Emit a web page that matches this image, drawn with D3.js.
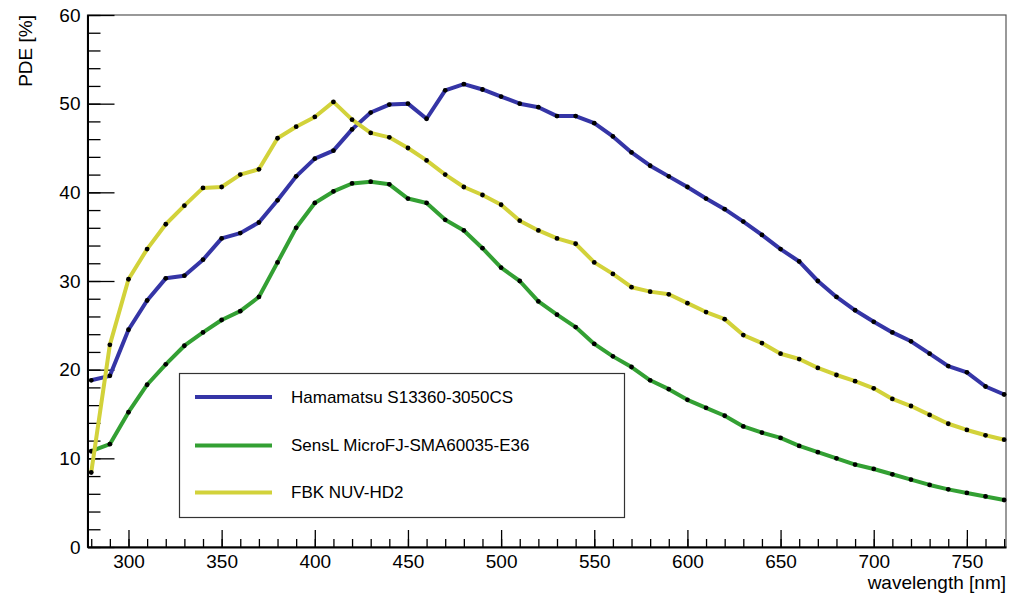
<!DOCTYPE html>
<html>
<head>
<meta charset="utf-8">
<script src="https://cdn.jsdelivr.net/npm/d3@7"></script>
<style>
  body { margin: 0; background: #fff; }
  svg { font-family: "Liberation Sans", Arial, Helvetica, sans-serif; }
</style>
</head>
<body>
<svg id="chart" width="1016" height="594"></svg>
<script>
// wavelength points [nm]
const wavelengths = d3.range(280, 771, 10)

// PDE [%]
const hamamatsu = [18.8, 19.3, 24.5, 27.8, 30.3, 30.6, 32.4, 34.8, 35.4, 36.6,
    39.1, 41.8, 43.8, 44.7, 47.1, 49.0, 49.9, 50.0, 48.3, 51.5,
    52.2, 51.6, 50.8, 50.0, 49.6, 48.6, 48.6, 47.8, 46.3, 44.5,
    43.0, 41.8, 40.6, 39.3, 38.1, 36.7, 35.2, 33.6, 32.2, 30.0,
    28.2, 26.7, 25.4, 24.2, 23.2, 21.8, 20.4, 19.7, 18.1, 17.2]

const sensl = [10.8, 11.6, 15.2, 18.3, 20.6, 22.7, 24.2, 25.6, 26.6, 28.2,
    32.1, 36.0, 38.8, 40.1, 41.0, 41.2, 40.9, 39.3, 38.8, 36.9,
    35.7, 33.7, 31.5, 30.0, 27.7, 26.2, 24.8, 22.9, 21.5, 20.3,
    18.8, 17.8, 16.6, 15.7, 14.8, 13.6, 12.9, 12.3, 11.4, 10.7,
    10.0, 9.3, 8.8, 8.2, 7.6, 7.0, 6.5, 6.1, 5.7, 5.3]

const fbk = [8.4, 22.8, 30.2, 33.6, 36.4, 38.5, 40.5, 40.6, 42.0, 42.6,
    46.1, 47.4, 48.5, 50.2, 48.2, 46.7, 46.2, 45.0, 43.6, 42.0,
    40.6, 39.7, 38.6, 36.8, 35.7, 34.8, 34.2, 32.1, 30.8, 29.3,
    28.8, 28.5, 27.5, 26.5, 25.7, 23.9, 23.0, 21.8, 21.2, 20.2,
    19.4, 18.7, 17.9, 16.7, 15.9, 14.9, 13.9, 13.2, 12.6, 12.1]

const seriesNames = ['Hamamatsu S13360-3050CS', 'SensL MicroFJ-SMA60035-E36', 'FBK NUV-HD2']
const seriesColors = ['#3535a6', '#33a033', '#d2d23a']
const seriesValues = [hamamatsu, sensl, fbk]

const yMajorTicks = [0, 10, 20, 30, 40, 50, 60]
const xMajorTicks = [300, 350, 400, 450, 500, 550, 600, 650, 700, 750]

let svg = d3.select('#chart')

let frame = { left: 87.5, right: 1006, top: 15, bottom: 547 }

let xScale = d3.scaleLinear().domain([278, 771]).range([frame.left, frame.right])
let yScale = d3.scaleLinear().domain([0, 60]).range([frame.bottom, frame.top])

// frame
svg.append('rect')
    .attr('x', frame.left)
    .attr('y', frame.top)
    .attr('width', frame.right - frame.left)
    .attr('height', frame.bottom - frame.top)
    .attr('fill', 'none')
    .attr('stroke', '#555')
    .attr('stroke-width', 1.2)

// y axis minor ticks
svg.append('g')
    .attr('transform', `translate(${frame.left},0)`)
    .call(d3.axisLeft(yScale).tickValues(d3.range(0, 61, 2)).tickSize(-13).tickSizeOuter(0).tickFormat(''))
    .call(g => g.select('.domain').remove())
    .call(g => g.selectAll('line').attr('stroke', '#000').attr('stroke-width', 1.3))

// y axis major ticks
svg.append('g')
    .attr('transform', `translate(${frame.left},0)`)
    .call(d3.axisLeft(yScale).tickValues(yMajorTicks).tickSize(-27).tickSizeOuter(0).tickPadding(7))
    .call(g => g.select('.domain').attr('stroke', '#000').attr('stroke-width', 2))
    .call(g => g.selectAll('line').attr('stroke', '#000').attr('stroke-width', 1.3))
    .call(g => g.selectAll('text').attr('font-size', 19).attr('fill', '#000')
        .attr('font-family', '"Liberation Sans", Arial, sans-serif'))

// x axis minor ticks
svg.append('g')
    .attr('transform', `translate(0,${frame.bottom})`)
    .call(d3.axisBottom(xScale).tickValues(d3.range(280, 771, 10)).tickSize(-8).tickSizeOuter(0).tickFormat(''))
    .call(g => g.select('.domain').remove())
    .call(g => g.selectAll('line').attr('stroke', '#000').attr('stroke-width', 1.3))

// x axis major ticks
svg.append('g')
    .attr('transform', `translate(0,${frame.bottom})`)
    .call(d3.axisBottom(xScale).tickValues(xMajorTicks).tickSize(-17).tickSizeOuter(0).tickPadding(8))
    .call(g => g.select('.domain').attr('stroke', '#000').attr('stroke-width', 2))
    .call(g => g.selectAll('line').attr('stroke', '#000').attr('stroke-width', 1.3))
    .call(g => g.selectAll('text').attr('font-size', 19).attr('fill', '#000')
        .attr('font-family', '"Liberation Sans", Arial, sans-serif'))

// axis titles
svg.append('text')
    .attr('transform', `translate(32,${frame.top}) rotate(-90)`)
    .attr('text-anchor', 'end')
    .attr('font-size', 19)
    .text('PDE [%]')

svg.append('text')
    .attr('x', frame.right)
    .attr('y', 589)
    .attr('text-anchor', 'end')
    .attr('font-size', 19)
    .text('wavelength [nm]')

// curves, drawn in legend order (the last one ends up on top)
let line = d3.line()
    .x((d, i) => xScale(wavelengths[i]))
    .y(d => yScale(d))

let plot = svg.append('g')

seriesValues.forEach((values, k) => {
    plot.append('path')
        .datum(values)
        .attr('d', line)
        .attr('fill', 'none')
        .attr('stroke', seriesColors[k])
        .attr('stroke-width', 4)
        .attr('stroke-linejoin', 'round')

    plot.append('g')
        .selectAll('circle')
        .data(values)
        .enter()
        .append('circle')
        .attr('cx', (d, i) => xScale(wavelengths[i]))
        .attr('cy', d => yScale(d))
        .attr('r', 2.4)
        .attr('fill', '#000')
})

// legend
let legend = svg.append('g')
legend.append('rect')
    .attr('x', 179.5)
    .attr('y', 373.5)
    .attr('width', 445)
    .attr('height', 144)
    .attr('fill', '#fff')
    .attr('stroke', '#333')
    .attr('stroke-width', 1.2)

let legendY = [397, 445.5, 492.5]
seriesNames.forEach((name, k) => {
    legend.append('line')
        .attr('x1', 195)
        .attr('x2', 272)
        .attr('y1', legendY[k])
        .attr('y2', legendY[k])
        .attr('stroke', seriesColors[k])
        .attr('stroke-width', 4)
    legend.append('text')
        .attr('x', 291)
        .attr('y', legendY[k])
        .attr('dy', '0.35em')
        .attr('font-size', 17)
        .text(name)
})
</script>
</body>
</html>
